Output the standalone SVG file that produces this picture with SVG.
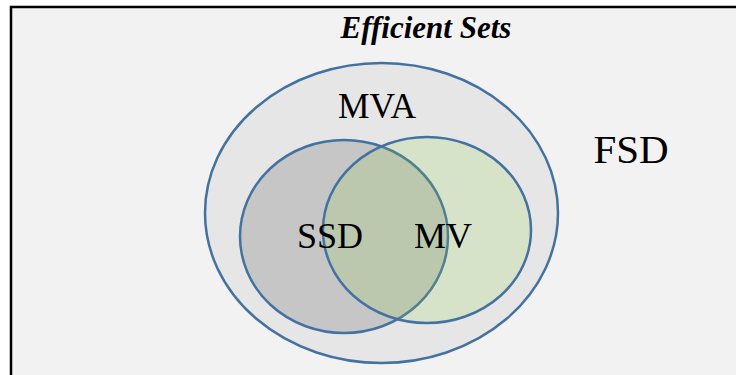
<svg xmlns="http://www.w3.org/2000/svg" width="736" height="375" viewBox="0 0 736 375">
  <style>
    .set { stroke: #4472a0; stroke-width: 2.5; }
    .lbl { font-family: "Liberation Serif", "Times New Roman", serif; fill: #000; }
  </style>
  <!-- page and frame -->
  <rect x="0" y="0" width="736" height="375" fill="#ffffff"/>
  <rect x="11" y="7" width="725" height="368" fill="#f2f2f2"/>
  <path d="M11,375 V7 H736" fill="none" stroke="#000" stroke-width="2.5"/>

  <text class="lbl" x="426" y="38" font-size="31" font-weight="bold" font-style="italic" text-anchor="middle">Efficient Sets</text>

  <g id="fsd">
    <text class="lbl" x="631" y="163" font-size="41" text-anchor="middle">FSD</text>
  </g>

  <g id="mva">
    <ellipse class="set" cx="381.5" cy="213" rx="176.5" ry="150" fill="#e6e6e6"/>
    <text class="lbl" x="377" y="118" font-size="35" text-anchor="middle" textLength="78" lengthAdjust="spacingAndGlyphs">MVA</text>
  </g>

  <g id="ssd">
    <ellipse class="set" cx="344" cy="236.5" rx="104" ry="96.5" fill="#c6c6c6"/>
  </g>

  <g id="mv">
    <ellipse class="set" cx="427" cy="230" rx="104" ry="93" fill="#86d632" fill-opacity="0.16"/>
  </g>

  <g id="labels">
    <text class="lbl" x="330" y="248" font-size="36" text-anchor="middle">SSD</text>
    <text class="lbl" x="443" y="248" font-size="36" text-anchor="middle">MV</text>
  </g>
</svg>
